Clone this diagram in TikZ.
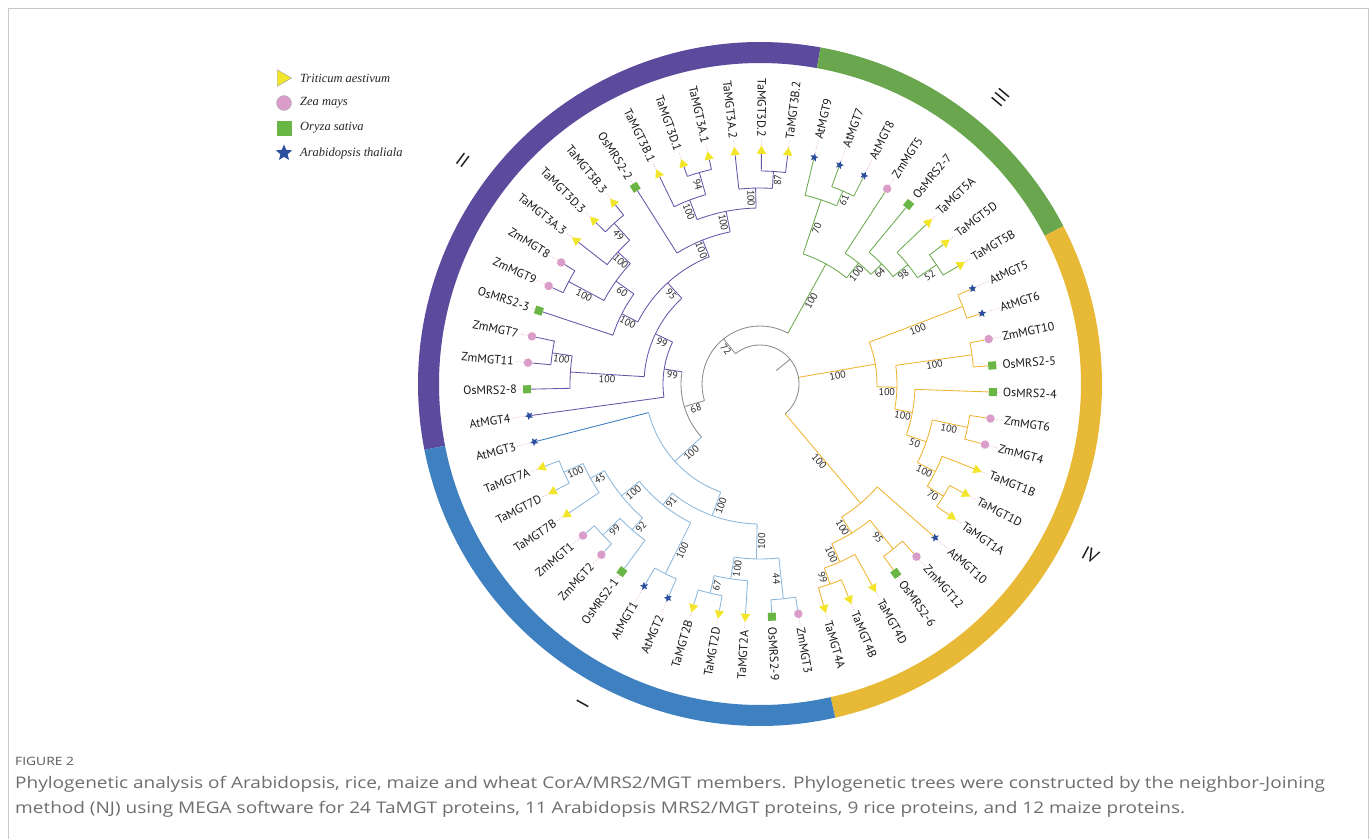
\documentclass[tikz,border=0pt]{standalone}
\usepackage{fontspec}
\setmainfont{PT Sans}
\newfontfamily\capfont{Open Sans}
\newfontfamily\legfont{Liberation Serif}
\usetikzlibrary{shapes.geometric}

\definecolor{rP}{HTML}{5C4A9D}
\definecolor{rG}{HTML}{69A64E}
\definecolor{rY}{HTML}{E8B936}
\definecolor{rB}{HTML}{3F80C0}
\definecolor{cK}{HTML}{8C8C8C}
\definecolor{cG}{HTML}{6AAB4E}
\definecolor{cY}{HTML}{F0B530}
\definecolor{cB}{HTML}{8CB8DC}
\definecolor{cBd}{HTML}{3B7BC4}
\definecolor{cP}{HTML}{6A54A8}
\definecolor{cT}{HTML}{F3E62A}
\definecolor{cZ}{HTML}{DA9DC9}
\definecolor{cO}{HTML}{69B646}
\definecolor{cA}{HTML}{2B4E9F}
\definecolor{dotc}{HTML}{E8A9C4}
\definecolor{capc}{HTML}{6E6E6E}
\definecolor{framec}{HTML}{C8C8C8}

\def\lrT{246}\def\lrZ{246}\def\lrO{242}\def\lrA{251}

\newcommand\SetRot[1]{%
  \pgfmathsetmacro\nA{mod(#1+720,360)}%
  \pgfmathtruncatemacro\isL{(\nA>89)*(\nA<271)}%
  \ifnum\isL=1\relax\pgfmathsetmacro\rotA{\nA+180}\def\anc{east}%
  \else\pgfmathsetmacro\rotA{\nA}\def\anc{west}\fi}

% leaf: name, angle, parent radius, species, colour, text
\newcommand\TreeLeaf[6]{%
  \SetRot{#2}%
  \coordinate (#1b) at (#2:#3);
  \node[sym#4, rotate=#2-90] (#1) at (#2:233) {};
  \draw[br, #5] (#1b) -- (#1);
  \node[leaflab, rotate=\rotA, anchor=\anc] (#1t) at (#2:\csname lr#4\endcsname) {#6};
  \draw[dots] (#1) -- (#1t);
}
% internal node: name, angle, radius, parent radius, colour, bootstrap
\newcommand\TreeNode[6]{%
  \SetRot{#2}%
  \pgfmathsetmacro\rM{(#3+#4)/2}%
  \coordinate (#1b) at (#2:#4);
  \coordinate (#1) at (#2:#3);
  \draw[br, #5] (#1b) -- (#1);
  \node[bslab, rotate=\rotA] (#1l) at (#2:\rM) {#6};
}
% arc: colour, start child name, start angle, end angle, radius
\newcommand\TreeArc[5]{\draw[br, #1] (#2b) arc[start angle=#3, end angle=#4, radius=#5];}
\newcommand\RingSeg[3]{\fill[#1] (#2:342) arc[start angle=#2, end angle=#3, radius=342] -- (#3:321) arc[start angle=#3, end angle=#2, radius=321] -- cycle;}

\begin{document}
\begin{tikzpicture}[x=1pt,y=1pt,
  br/.style={line width=0.85pt},
  symT/.style={regular polygon, regular polygon sides=3, fill=cT, minimum size=11pt, inner sep=0pt},
  symZ/.style={circle, fill=cZ, minimum size=8.5pt, inner sep=0pt},
  symO/.style={rectangle, fill=cO, minimum size=8pt, inner sep=0pt},
  symA/.style={star, star points=5, star point ratio=2.2, fill=cA, minimum size=8.5pt, inner sep=0pt},
  leaflab/.style={font=\fontsize{12}{13}\selectfont, inner sep=1pt, text=black!90},
  bslab/.style={font=\fontsize{10}{11}\selectfont, inner sep=1pt, anchor=north, text=black!85},
  dots/.style={dotc, line width=0.7pt, dash pattern=on 0.8pt off 1.6pt},
  cladelab/.style={font=\fontsize{19}{20}\selectfont, inner sep=0pt, text=black!90},
  legtext/.style={anchor=west, inner sep=0pt, font=\legfont\itshape\fontsize{12.5}{14}\selectfont, text=black!85},
  captext/.style={anchor=base west, inner sep=0pt, text=capc}
]
\useasboundingbox (0,0) rectangle (1372,-839);
\fill[white] (0,0) rectangle (1372,-839);
\draw[framec, line width=1pt] (8,-839) -- (8,-8) -- (1368,-8) -- (1368,-839);

\begin{scope}[shift={(760,-384)}]
% ring
\RingSeg{rP}{79.8}{191.1}
\RingSeg{rG}{27.5}{79.8}
\RingSeg{rY}{-77.3}{27.5}
\RingSeg{rB}{191.1}{282.7}

% clade labels
\node[cladelab, rotate=-37] (cII) at (143:372) {II};
\node[cladelab, rotate=50] (cIII) at (50:374) {III};
\node[cladelab, rotate=-27.4] (cIV) at (-27.4:372) {IV};
\node[cladelab, rotate=61] (cI) at (241:366) {I};

% root
\coordinate (rootin) at (39.54:21);
\coordinate (root) at (39.54:39);
\draw[br, cK] (rootin) -- (root);

% backbone nodes
\TreeNode{n72}{128.94}{58}{39}{cK}{72}
\TreeNode{n68}{196.65}{79}{58}{cK}{68}
\TreeNode{IVu}{9.78}{117}{39}{cY}{100}
\TreeNode{IVl}{-49.85}{156}{39}{cY}{100}
\TreeArc{cK}{n72}{128.94}{-49.85}{39}
\TreeNode{G0}{61.22}{137}{58}{cG}{100}
\TreeArc{cK}{G0}{61.22}{196.65}{58}
\TreeNode{nI}{222.20}{115}{79}{cB}{100}
\TreeNode{n99a}{171.11}{97}{79}{cP}{99}
\TreeArc{cK}{n99a}{171.11}{222.20}{79}

% clade III (green)
\TreeNode{G1}{71.65}{194}{137}{cG}{70}
\TreeNode{G2}{50.79}{156}{137}{cG}{100}
\TreeArc{cG}{G2}{50.79}{71.65}{137}
\TreeNode{G3}{66.75}{210}{194}{cG}{61}
\TreeNode{G4}{44.65}{171}{156}{cG}{64}
\TreeNode{G5}{38.92}{190}{171}{cG}{98}
\TreeNode{G6}{34.02}{213}{190}{cG}{52}
\TreeLeaf{lf47}{76.56}{194}{A}{cG}{AtMGT9}
\TreeArc{cG}{G3}{66.75}{76.56}{194}
\TreeLeaf{lf48}{70.02}{210}{A}{cG}{AtMGT7}
\TreeLeaf{lf49}{63.47}{210}{A}{cG}{AtMGT8}
\TreeArc{cG}{lf49}{63.47}{70.02}{210}
\TreeLeaf{lf50}{56.93}{156}{Z}{cG}{ZmMGT5}
\TreeArc{cG}{G4}{44.65}{56.93}{156}
\TreeLeaf{lf51}{50.38}{171}{O}{cG}{OsMRS2-7}
\TreeArc{cG}{G5}{38.92}{50.38}{171}
\TreeLeaf{lf52}{43.83}{190}{T}{cG}{TaMGT5A}
\TreeArc{cG}{G6}{34.02}{43.83}{190}
\TreeLeaf{lf53}{37.29}{213}{T}{cG}{TaMGT5D}
\TreeLeaf{lf54}{30.74}{213}{T}{cG}{TaMGT5B}
\TreeArc{cG}{lf54}{30.74}{37.29}{213}

% clade IV upper (yellow)
\TreeNode{Y1}{20.93}{217}{117}{cY}{100}
\TreeNode{Y2}{-1.37}{137}{117}{cY}{100}
\TreeArc{cY}{Y2}{-1.37}{20.93}{117}
\TreeNode{Y3}{7.84}{214}{137}{cY}{100}
\TreeNode{Y4}{-10.58}{155}{137}{cY}{100}
\TreeArc{cY}{Y4}{-10.58}{7.84}{137}
\TreeNode{Y5}{-19.17}{176}{155}{cY}{50}
\TreeNode{Y6}{-11.80}{212}{176}{cY}{100}
\TreeNode{Y7}{-26.53}{196}{176}{cY}{100}
\TreeArc{cY}{Y7}{-26.53}{-11.80}{176}
\TreeNode{Y8}{-31.44}{215}{196}{cY}{70}
\TreeLeaf{lf0}{24.20}{217}{A}{cY}{AtMGT5}
\TreeLeaf{lf1}{17.65}{217}{A}{cY}{AtMGT6}
\TreeArc{cY}{lf1}{17.65}{24.20}{217}
\TreeLeaf{lf2}{11.11}{214}{Z}{cY}{ZmMGT10}
\TreeLeaf{lf3}{4.56}{214}{O}{cY}{OsMRS2-5}
\TreeArc{cY}{lf3}{4.56}{11.11}{214}
\TreeLeaf{lf4}{-1.98}{155}{O}{cY}{OsMRS2-4}
\TreeArc{cY}{Y5}{-19.17}{-1.98}{155}
\TreeLeaf{lf5}{-8.53}{212}{Z}{cY}{ZmMGT6}
\TreeLeaf{lf6}{-15.07}{212}{Z}{cY}{ZmMGT4}
\TreeArc{cY}{lf6}{-15.07}{-8.53}{212}
\TreeLeaf{lf7}{-21.62}{196}{T}{cY}{TaMGT1B}
\TreeArc{cY}{Y8}{-31.44}{-21.62}{196}
\TreeLeaf{lf8}{-28.16}{215}{T}{cY}{TaMGT1D}
\TreeLeaf{lf9}{-34.71}{215}{T}{cY}{TaMGT1A}
\TreeArc{cY}{lf9}{-34.71}{-28.16}{215}

% clade IV lower (yellow)
\TreeNode{L1}{-58.44}{175}{156}{cY}{100}
\TreeLeaf{lf10}{-41.26}{156}{A}{cY}{AtMGT10}
\TreeArc{cY}{L1}{-58.44}{-41.26}{156}
\TreeNode{L4}{-51.08}{212}{175}{cY}{95}
\TreeNode{L2}{-65.80}{195}{175}{cY}{100}
\TreeArc{cY}{L2}{-65.80}{-51.08}{175}
\TreeNode{L3}{-70.71}{212}{195}{cY}{99}
\TreeLeaf{lf11}{-47.80}{212}{Z}{cY}{ZmMGT12}
\TreeLeaf{lf12}{-54.35}{212}{O}{cY}{OsMRS2-6}
\TreeArc{cY}{lf12}{-54.35}{-47.80}{212}
\TreeLeaf{lf13}{-60.89}{195}{T}{cY}{TaMGT4D}
\TreeArc{cY}{L3}{-70.71}{-60.89}{195}
\TreeLeaf{lf14}{-67.44}{212}{T}{cY}{TaMGT4B}
\TreeLeaf{lf15}{-73.98}{212}{T}{cY}{TaMGT4A}
\TreeArc{cY}{lf15}{-73.98}{-67.44}{212}

% clade I (blue)
\TreeNode{B1}{250.02}{140}{115}{cB}{100}
\TreeLeaf{lf29}{194.38}{115}{A}{cBd}{AtMGT3}
\TreeArc{cB}{lf29}{194.38}{250.02}{115}
\TreeNode{B3}{268.84}{175}{140}{cB}{100}
\TreeNode{B2}{231.20}{155}{140}{cB}{91}
\TreeArc{cB}{B2}{231.20}{268.84}{140}
\TreeNode{Bz}{276.20}{216}{175}{cB}{44}
\TreeNode{By}{261.47}{197}{175}{cB}{100}
\TreeArc{cB}{By}{261.47}{276.20}{175}
\TreeNode{Bx}{256.57}{215}{197}{cB}{67}
\TreeNode{B5}{243.47}{212}{155}{cB}{100}
\TreeNode{B4}{218.93}{178}{155}{cB}{100}
\TreeArc{cB}{B4}{218.93}{243.47}{155}
\TreeNode{B7}{228.74}{194}{178}{cB}{92}
\TreeNode{B6}{209.11}{194}{178}{cB}{45}
\TreeArc{cB}{B6}{209.11}{228.74}{178}
\TreeNode{Bw}{223.84}{218}{194}{cB}{99}
\TreeNode{Bv}{204.20}{215}{194}{cB}{100}
\TreeLeaf{lf16}{279.47}{216}{Z}{cB}{ZmMGT3}
\TreeLeaf{lf17}{272.93}{216}{O}{cB}{OsMRS2-9}
\TreeArc{cB}{lf17}{272.93}{279.47}{216}
\TreeLeaf{lf18}{266.38}{197}{T}{cB}{TaMGT2A}
\TreeArc{cB}{Bx}{256.57}{266.38}{197}
\TreeLeaf{lf19}{259.84}{215}{T}{cB}{TaMGT2D}
\TreeLeaf{lf20}{253.29}{215}{T}{cB}{TaMGT2B}
\TreeArc{cB}{lf20}{253.29}{259.84}{215}
\TreeLeaf{lf21}{246.74}{212}{A}{cB}{AtMGT2}
\TreeLeaf{lf22}{240.20}{212}{A}{cB}{AtMGT1}
\TreeArc{cB}{lf22}{240.20}{246.74}{212}
\TreeLeaf{lf23}{233.65}{194}{O}{cB}{OsMRS2-1}
\TreeArc{cB}{Bw}{223.84}{233.65}{194}
\TreeLeaf{lf24}{227.11}{218}{Z}{cB}{ZmMGT2}
\TreeLeaf{lf25}{220.56}{218}{Z}{cB}{ZmMGT1}
\TreeArc{cB}{lf25}{220.56}{227.11}{218}
\TreeLeaf{lf26}{214.02}{194}{T}{cB}{TaMGT7B}
\TreeArc{cB}{Bv}{204.20}{214.02}{194}
\TreeLeaf{lf27}{207.47}{215}{T}{cB}{TaMGT7D}
\TreeLeaf{lf28}{200.93}{215}{T}{cB}{TaMGT7A}
\TreeArc{cB}{lf28}{200.93}{207.47}{215}

% clade II (purple)
\TreeNode{n99b}{154.39}{116}{97}{cP}{99}
\TreeLeaf{lf30}{187.83}{97}{A}{cP}{AtMGT4}
\TreeArc{cP}{n99b}{154.39}{187.83}{97}
\TreeNode{P1}{176.38}{190}{116}{cP}{100}
\TreeNode{P2}{132.40}{137}{116}{cP}{95}
\TreeArc{cP}{P2}{132.40}{176.38}{116}
\TreeNode{Pz}{171.47}{210}{190}{cP}{100}
\TreeLeaf{lf31}{181.29}{190}{O}{cP}{OsMRS2-8}
\TreeArc{cP}{Pz}{171.47}{181.29}{190}
\TreeLeaf{lf32}{174.74}{210}{Z}{cP}{ZmMGT11}
\TreeLeaf{lf33}{168.20}{210}{Z}{cP}{ZmMGT7}
\TreeArc{cP}{lf33}{168.20}{174.74}{210}
\TreeNode{Pl}{153.06}{155}{137}{cP}{100}
\TreeNode{Pt2}{111.74}{155}{137}{cP}{100}
\TreeArc{cP}{Pt2}{111.74}{153.06}{137}
\TreeNode{Pd}{144.47}{177}{155}{cP}{60}
\TreeLeaf{lf34}{161.65}{155}{O}{cP}{OsMRS2-3}
\TreeArc{cP}{Pd}{144.47}{161.65}{155}
\TreeNode{Pa}{151.84}{217}{177}{cP}{100}
\TreeNode{Pc}{137.11}{194}{177}{cP}{100}
\TreeArc{cP}{Pc}{137.11}{151.84}{177}
\TreeLeaf{lf35}{155.11}{217}{Z}{cP}{ZmMGT9}
\TreeLeaf{lf36}{148.56}{217}{Z}{cP}{ZmMGT8}
\TreeArc{cP}{lf36}{148.56}{155.11}{217}
\TreeNode{Pb}{132.20}{217}{194}{cP}{49}
\TreeLeaf{lf37}{142.02}{194}{T}{cP}{TaMGT3A.3}
\TreeArc{cP}{Pb}{132.20}{142.02}{194}
\TreeLeaf{lf38}{135.47}{217}{T}{cP}{TaMGT3D.3}
\TreeLeaf{lf39}{128.93}{217}{T}{cP}{TaMGT3B.3}
\TreeArc{cP}{lf39}{128.93}{135.47}{217}
\TreeNode{Pt}{101.11}{176}{155}{cP}{100}
\TreeLeaf{lf40}{122.38}{155}{O}{cP}{OsMRS2-2}
\TreeArc{cP}{Pt}{101.11}{122.38}{155}
\TreeNode{Pf}{110.92}{197}{176}{cP}{100}
\TreeNode{Ph}{91.29}{196}{176}{cP}{100}
\TreeArc{cP}{Ph}{91.29}{110.92}{176}
\TreeNode{Pe}{106.02}{220}{197}{cP}{94}
\TreeLeaf{lf41}{115.83}{197}{T}{cP}{TaMGT3B.1}
\TreeArc{cP}{Pe}{106.02}{115.83}{197}
\TreeLeaf{lf42}{109.29}{220}{T}{cP}{TaMGT3D.1}
\TreeLeaf{lf43}{102.74}{220}{T}{cP}{TaMGT3A.1}
\TreeArc{cP}{lf43}{102.74}{109.29}{220}
\TreeNode{Pg}{86.38}{213}{196}{cP}{87}
\TreeLeaf{lf44}{96.20}{196}{T}{cP}{TaMGT3A.2}
\TreeArc{cP}{Pg}{86.38}{96.20}{196}
\TreeLeaf{lf45}{89.65}{213}{T}{cP}{TaMGT3D.2}
\TreeLeaf{lf46}{83.11}{213}{T}{cP}{TaMGT3B.2}
\TreeArc{cP}{lf46}{83.11}{89.65}{213}
\end{scope}

% legend
\node[regular polygon, regular polygon sides=3, rotate=-90, fill=cT, draw=black!40, line width=0.4pt, minimum size=19pt, inner sep=0pt] (legT) at (282,-78) {};
\node[legtext] (legTt) at (300,-78) {Triticum aestivum};
\node[circle, fill=cZ, draw=black!30, line width=0.4pt, minimum size=15pt, inner sep=0pt] (legZ) at (284,-103) {};
\node[legtext] (legZt) at (300,-103) {Zea mays};
\node[rectangle, fill=cO, minimum size=15pt, inner sep=0pt] (legO) at (284,-128) {};
\node[legtext] (legOt) at (300,-128) {Oryza sativa};
\node[star, star points=5, star point ratio=2.2, fill=cA, minimum size=17pt, inner sep=0pt] (legA) at (284,-153) {};
\node[legtext] (legAt) at (300,-153) {Arabidopsis thaliala};

% caption
\node[captext, font=\capfont\fontsize{11.5}{13}\selectfont, text=black!65] (fig) at (15,-765) {\scalebox{1.2}[1]{FIGURE 2}};
\node[captext, font=\capfont\fontsize{16}{18}\selectfont] (cap1) at (15,-788) {\scalebox{1.188}[1]{Phylogenetic analysis of Arabidopsis, rice, maize and wheat CorA/MRS2/MGT members. Phylogenetic trees were constructed by the neighbor-Joining}};
\node[captext, font=\capfont\fontsize{16}{18}\selectfont] (cap2) at (15,-813) {\scalebox{1.188}[1]{method (NJ) using MEGA software for 24 TaMGT proteins, 11 Arabidopsis MRS2/MGT proteins, 9 rice proteins, and 12 maize proteins.}};
\end{tikzpicture}
\end{document}
